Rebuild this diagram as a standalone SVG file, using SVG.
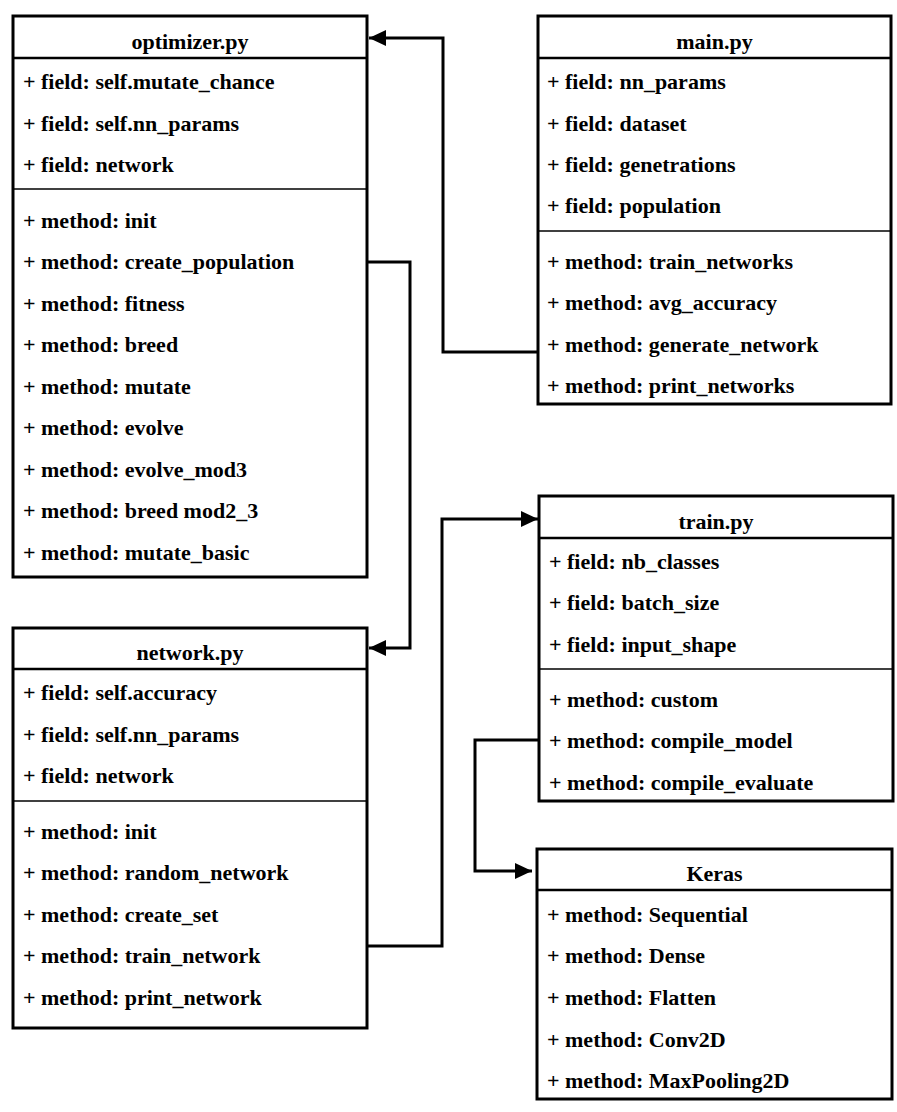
<svg xmlns="http://www.w3.org/2000/svg" width="897" height="1112" viewBox="0 0 897 1112">
<style>
.box{fill:#fff;stroke:#000;stroke-width:3}
.hsep{stroke:#000;stroke-width:2.5}
.sep{stroke:#000;stroke-width:1.6}
.t{font-family:"Liberation Serif","Times New Roman",serif;font-weight:bold;font-size:22px;fill:#000}
.title{text-anchor:middle}
.conn{fill:none;stroke:#000;stroke-width:3}
</style>
<defs>
<marker id="arr" markerWidth="18" markerHeight="16" refX="17" refY="8" orient="auto" markerUnits="userSpaceOnUse">
<path d="M0,0 L17,8 L0,16 Z" fill="#000"/>
</marker>
</defs>
<rect width="897" height="1112" fill="#fff"/>

<g id="connectors">
<path class="conn" d="M537,352 H443 V38 H369" marker-end="url(#arr)"/>
<path class="conn" d="M367,262 H410 V648 H369" marker-end="url(#arr)"/>
<path class="conn" d="M367,946 H442 V519 H538" marker-end="url(#arr)"/>
<path class="conn" d="M539,740 H475 V871 H532" marker-end="url(#arr)"/>
</g>

<g id="optimizer">
<rect class="box" x="13" y="16" width="354" height="561"/>
<line class="hsep" x1="13" y1="58" x2="367" y2="58"/>
<line class="sep" x1="13" y1="189" x2="367" y2="189"/>
<text class="t title" x="190" y="49">optimizer.py</text>
<text class="t" x="23" y="89">+ field: self.mutate_chance</text>
<text class="t" x="23" y="130.5">+ field: self.nn_params</text>
<text class="t" x="23" y="171.5">+ field: network</text>
<text class="t" x="23" y="227.5">+ method: init</text>
<text class="t" x="23" y="269">+ method: create_population</text>
<text class="t" x="23" y="310.5">+ method: fitness</text>
<text class="t" x="23" y="352">+ method: breed</text>
<text class="t" x="23" y="393.5">+ method: mutate</text>
<text class="t" x="23" y="435">+ method: evolve</text>
<text class="t" x="23" y="476.5">+ method: evolve_mod3</text>
<text class="t" x="23" y="518">+ method: breed mod2_3</text>
<text class="t" x="23" y="560">+ method: mutate_basic</text>
</g>

<g id="main">
<rect class="box" x="538" y="16" width="353" height="388"/>
<line class="hsep" x1="538" y1="58" x2="891" y2="58"/>
<line class="sep" x1="538" y1="231" x2="891" y2="231"/>
<text class="t title" x="714.5" y="49">main.py</text>
<text class="t" x="547" y="89">+ field: nn_params</text>
<text class="t" x="547" y="130.5">+ field: dataset</text>
<text class="t" x="547" y="171.5">+ field: genetrations</text>
<text class="t" x="547" y="213">+ field: population</text>
<text class="t" x="547" y="268.5">+ method: train_networks</text>
<text class="t" x="547" y="310">+ method: avg_accuracy</text>
<text class="t" x="547" y="351.5">+ method: generate_network</text>
<text class="t" x="547" y="393">+ method: print_networks</text>
</g>

<g id="network">
<rect class="box" x="13" y="628" width="354" height="400"/>
<line class="hsep" x1="13" y1="669" x2="367" y2="669"/>
<line class="sep" x1="13" y1="801" x2="367" y2="801"/>
<text class="t title" x="190" y="660">network.py</text>
<text class="t" x="23" y="700">+ field: self.accuracy</text>
<text class="t" x="23" y="741.5">+ field: self.nn_params</text>
<text class="t" x="23" y="783">+ field: network</text>
<text class="t" x="23" y="838.5">+ method: init</text>
<text class="t" x="23" y="880">+ method: random_network</text>
<text class="t" x="23" y="921.5">+ method: create_set</text>
<text class="t" x="23" y="963">+ method: train_network</text>
<text class="t" x="23" y="1005">+ method: print_network</text>
</g>

<g id="train">
<rect class="box" x="539" y="496" width="354" height="305"/>
<line class="hsep" x1="539" y1="538" x2="893" y2="538"/>
<line class="sep" x1="539" y1="669" x2="893" y2="669"/>
<text class="t title" x="716" y="529">train.py</text>
<text class="t" x="549" y="568.5">+ field: nb_classes</text>
<text class="t" x="549" y="610">+ field: batch_size</text>
<text class="t" x="549" y="651.5">+ field: input_shape</text>
<text class="t" x="549" y="706.5">+ method: custom</text>
<text class="t" x="549" y="748">+ method: compile_model</text>
<text class="t" x="549" y="790">+ method: compile_evaluate</text>
</g>

<g id="keras">
<rect class="box" x="537" y="849" width="355" height="250"/>
<line class="hsep" x1="537" y1="890" x2="892" y2="890"/>
<text class="t title" x="714.5" y="881">Keras</text>
<text class="t" x="547" y="921.5">+ method: Sequential</text>
<text class="t" x="547" y="963">+ method: Dense</text>
<text class="t" x="547" y="1005">+ method: Flatten</text>
<text class="t" x="547" y="1046.5">+ method: Conv2D</text>
<text class="t" x="547" y="1087.5">+ method: MaxPooling2D</text>
</g>
</svg>
